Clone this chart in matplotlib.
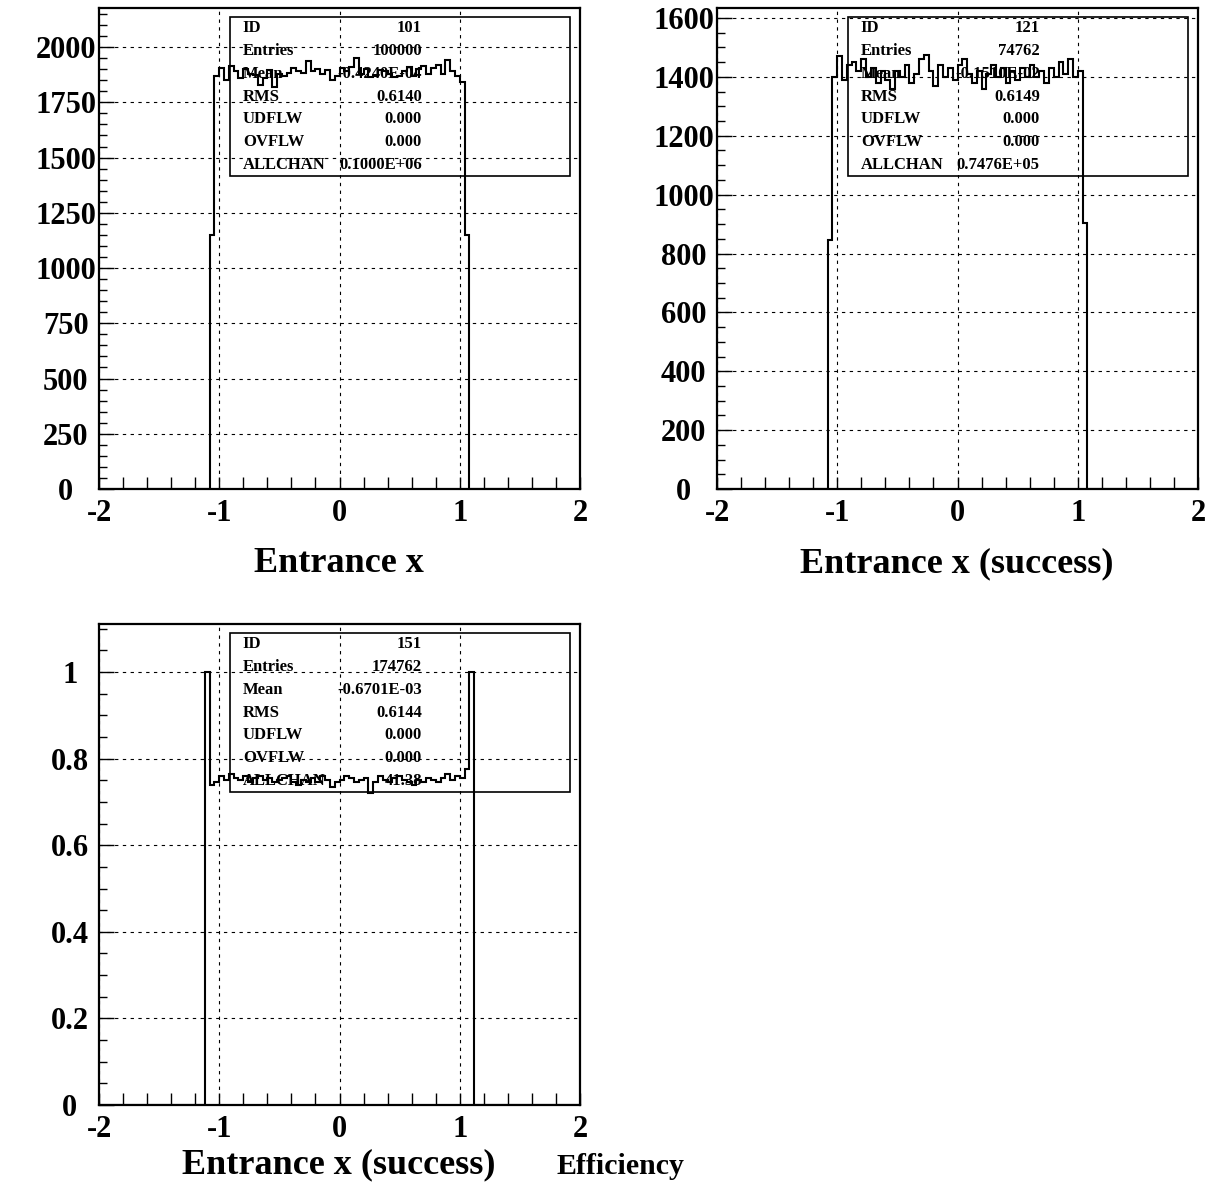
"""
PAW-style entrance-x histograms and efficiency plot.
"""

import numpy as np
import matplotlib as mpl
mpl.use('Agg')
import matplotlib.pyplot as plt
from matplotlib.patches import Rectangle
from matplotlib.ticker import MultipleLocator, FuncFormatter

# ---- data ----
# 100 bins on [-2, 2]; only the filled bins are listed
n_bins = 100
x_lo, x_hi = -2.0, 2.0

# ID 101, bins from -1.08 to 1.08 (first/last are partial)
h101 = [1150,
        1870, 1905, 1850, 1915, 1890, 1860, 1900, 1880, 1875, 1830,
        1860, 1895, 1820, 1880, 1870, 1885, 1905, 1890, 1885, 1935,
        1890, 1900, 1880, 1895, 1850, 1870, 1905, 1890, 1910, 1950,
        1880, 1900, 1865, 1870, 1895, 1890, 1880, 1865, 1870, 1890,
        1910, 1870, 1900, 1915, 1880, 1905, 1920, 1880, 1940, 1890,
        1870, 1840,
        1150]
h101_first = 23

# ID 121, bins from -1.08 to 1.08
h121 = [847,
        1400, 1470, 1390, 1440, 1450, 1420, 1460, 1400, 1430, 1380,
        1420, 1390, 1360, 1420, 1400, 1440, 1380, 1410, 1460, 1475,
        1420, 1370, 1440, 1400, 1430, 1390, 1440, 1460, 1410, 1380,
        1420, 1360, 1410, 1440, 1400, 1430, 1380, 1420, 1390, 1430,
        1400, 1440, 1400, 1420, 1380, 1430, 1400, 1450, 1410, 1460,
        1400, 1420,
        905]
h121_first = 23

# ID 151, bins from -1.12 to 1.12
h151 = [1.0,
        0.740, 0.745, 0.760, 0.750, 0.765, 0.755, 0.750, 0.760, 0.745, 0.755,
        0.760, 0.750, 0.755, 0.745, 0.750, 0.755, 0.760, 0.745, 0.740, 0.750,
        0.745, 0.755, 0.745, 0.760, 0.750, 0.735, 0.745, 0.750, 0.760, 0.755,
        0.745, 0.750, 0.755, 0.720, 0.745, 0.760, 0.750, 0.745, 0.755, 0.760,
        0.750, 0.745, 0.740, 0.750, 0.745, 0.755, 0.750, 0.745, 0.755, 0.765,
        0.750, 0.760, 0.755, 0.775,
        1.0]
h151_first = 22

stats101 = [('ID', '101'), ('Entries', '100000'), ('Mean', '-0.4240E-04'),
            ('RMS', '0.6140'), ('UDFLW', '0.000'), ('OVFLW', '0.000'),
            ('ALLCHAN', '0.1000E+06')]
stats121 = [('ID', '121'), ('Entries', '74762'), ('Mean', '-0.1510E-02'),
            ('RMS', '0.6149'), ('UDFLW', '0.000'), ('OVFLW', '0.000'),
            ('ALLCHAN', '0.7476E+05')]
stats151 = [('ID', '151'), ('Entries', '174762'), ('Mean', '-0.6701E-03'),
            ('RMS', '0.6144'), ('UDFLW', '0.000'), ('OVFLW', '0.000'),
            ('ALLCHAN', '41.38')]

plt.rcParams['font.family'] = ['Liberation Serif', 'DejaVu Serif']
plt.rcParams['font.weight'] = 'bold'

W, H = 1215, 1201
fig = plt.figure(figsize=(W / 100, H / 100), dpi=100)


def px_axes(left, top, right, bottom):
    return fig.add_axes([left / W, 1 - bottom / H,
                         (right - left) / W, (bottom - top) / H])


def draw_hist(ax, vals, first, ymax, ymajor, yminor, yfmt, stats, ypad):
    edges = np.linspace(x_lo, x_hi, n_bins + 1)
    counts = np.zeros(n_bins)
    counts[first:first + len(vals)] = vals
    ax.stairs(counts, edges, baseline=0, color='black', lw=1.5, zorder=3)
    ax.set_xlim(x_lo, x_hi)
    ax.set_ylim(0, ymax)
    ax.xaxis.set_major_locator(MultipleLocator(1))
    ax.xaxis.set_minor_locator(MultipleLocator(0.2))
    ax.yaxis.set_major_locator(MultipleLocator(ymajor))
    ax.yaxis.set_minor_locator(MultipleLocator(yminor))
    ax.xaxis.set_major_formatter(FuncFormatter(lambda v, p: '%g' % v))
    ax.yaxis.set_major_formatter(FuncFormatter(yfmt))
    ax.tick_params(axis='both', which='both', direction='in',
                   top=False, right=False, labelsize=22, width=1)
    ax.tick_params(axis='x', which='both', length=9, pad=7)
    ax.tick_params(axis='y', which='major', length=11, pad=ypad)
    ax.tick_params(axis='y', which='minor', length=5.5)
    for lab in ax.get_xticklabels() + ax.get_yticklabels():
        lab.set_fontweight('bold')
    # PAW centres the y labels in a column left of the axis
    plt.setp(ax.get_yticklabels(), ha='center')
    for sp in ax.spines.values():
        sp.set_linewidth(1.6)
    ax.grid(True, which='major', color='black', lw=0.8,
            linestyle=(0, (3, 4)))
    ax.set_axisbelow(True)
    # statistics box
    bx0, bx1, by1, by0 = 0.272, 0.979, 0.981, 0.651
    ax.add_patch(Rectangle((bx0, by0), bx1 - bx0, by1 - by0,
                           transform=ax.transAxes, fill=False,
                           edgecolor='black', lw=1.2, zorder=4))
    dy = (by1 - by0) / len(stats)
    for i, (name, val) in enumerate(stats):
        yy = by1 - (i + 0.5) * dy
        ax.text(0.299, yy, name, transform=ax.transAxes, fontsize=12,
                fontweight='bold', ha='left', va='center', zorder=5)
        ax.text(0.671, yy, val, transform=ax.transAxes, fontsize=12,
                fontweight='bold', ha='right', va='center', zorder=5)


ax1 = px_axes(99, 8, 580, 489)
draw_hist(ax1, h101, h101_first, 2177, 250, 50,
          lambda v, p: '%d' % v, stats101, 24)
ax2 = px_axes(717, 8, 1198, 489)
draw_hist(ax2, h121, h121_first, 1634, 200, 50,
          lambda v, p: '%d' % v, stats121, 24)
ax3 = px_axes(99, 624, 580, 1105)
draw_hist(ax3, h151, h151_first, 1.111, 0.2, 0.05,
          lambda v, p: '%g' % round(v, 2), stats151, 21)

fig.text(339 / W, 1 - 564 / H, 'Entrance x', fontsize=26,
         fontweight='bold', ha='center', va='center')
fig.text(957 / W, 1 - 564 / H, 'Entrance x (success)', fontsize=26,
         fontweight='bold', ha='center', va='center')
fig.text(339 / W, 1 - 1165 / H, 'Entrance x (success)', fontsize=26,
         fontweight='bold', ha='center', va='center')
fig.text(620 / W, 1 - 1167 / H, 'Efficiency', fontsize=21.5,
         fontweight='bold', ha='center', va='center')

fig.savefig('out.png', dpi=100)
plt.close(fig)
